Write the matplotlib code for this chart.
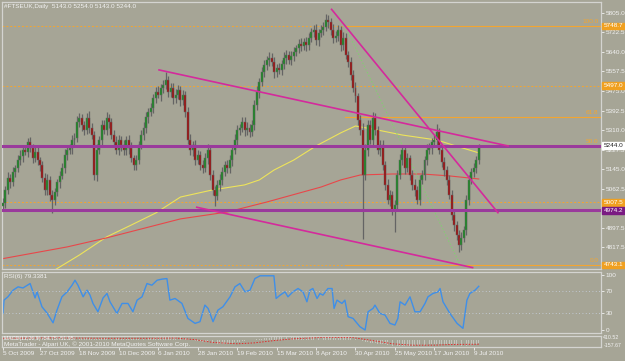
import numpy as np
import matplotlib.pyplot as plt

# FTSE daily candles, 5 Oct 2009 .. 12 Jul 2010, closes
first_open = 4990.0
closes = [
    5004, 5059, 5109, 5092, 5135, 5151, 5185, 5202, 5227, 5219,
    5261, 5236, 5193, 5219, 5185, 5164, 5109, 5059, 5101, 5038,
    5017, 5050, 5092, 5118, 5151, 5206, 5227, 5236, 5269, 5278,
    5345, 5362, 5332, 5311, 5362, 5320, 5290, 5122, 5227, 5269,
    5332, 5311, 5362, 5345, 5290, 5261, 5227, 5269, 5248, 5227,
    5269, 5236, 5193, 5164, 5185, 5248, 5290, 5320, 5366, 5387,
    5404, 5446, 5471, 5459, 5488, 5501, 5522, 5471, 5488, 5446,
    5459, 5480, 5438, 5459, 5387, 5269, 5227, 5248, 5185, 5206,
    5164, 5151, 5193, 5227, 5122, 5059, 5033, 5080, 5101, 5135,
    5164, 5151, 5185, 5227, 5269, 5311, 5320, 5345, 5311, 5320,
    5303, 5332, 5417, 5471, 5513, 5555, 5585, 5606, 5614, 5598,
    5555, 5572, 5564, 5589, 5614, 5627, 5606, 5623, 5640, 5656,
    5673, 5665, 5682, 5669, 5699, 5724, 5732, 5690, 5720, 5732,
    5745, 5774, 5766, 5732, 5699, 5707, 5732, 5669, 5699, 5627,
    5598, 5543, 5488, 5454, 5353, 5311, 5122, 5227, 5332, 5269,
    5362, 5311, 5227, 5248, 5164, 5080, 5017, 5038, 4975, 4996,
    5122, 5185, 5227, 5151, 5193, 5122, 5080, 5059, 5017, 5101,
    5122, 5185, 5227, 5236, 5261, 5269, 5303, 5227, 5177, 5143,
    5101, 5038, 4954, 4912, 4870, 4828, 4857, 4891, 5017, 5101,
    5135, 5151, 5185, 5244,
]
up_wick = [
    20, 15, 25, 18, 22, 12, 20, 25, 15, 20,
    18, 22, 15, 20, 25, 12, 18, 20, 25, 15,
    20, 18, 15, 22, 20, 25, 15, 18, 20, 22,
    25, 20, 18, 15, 22, 30, 20, 15, 25, 18,
    20, 22, 25, 15, 18, 20, 25, 22, 15, 20,
    18, 20, 25, 15, 20, 18, 22, 25, 20, 15,
    20, 18, 22, 25, 15, 20, 33, 18, 20, 22,
    25, 20, 18, 22, 15, 20, 25, 18, 20, 22,
    18, 22, 20, 25, 15, 20, 18, 22, 25, 20,
    15, 20, 22, 18, 25, 20, 15, 22, 20, 25,
    18, 20, 22, 25, 15, 20, 22, 18, 25, 20,
    22, 18, 20, 15, 25, 20, 18, 22, 20, 15,
    20, 25, 18, 22, 20, 15, 22, 25, 18, 20,
    22, 26, 20, 18, 25, 20, 22, 18, 25, 20,
    18, 22, 20, 25, 15, 20, 30, 25, 20, 22,
    25, 20, 18, 22, 20, 15, 25, 20, 18, 22,
    20, 25, 18, 22, 20, 15, 22, 25, 18, 20,
    22, 18, 25, 20, 15, 22, 35, 18, 20, 22,
    18, 20, 22, 25, 15, 20, 25, 18, 22, 20,
    15, 22, 18, 10,
]
down_wick = [
    15, 20, 18, 25, 15, 22, 18, 20, 25, 15,
    20, 18, 22, 15, 20, 25, 18, 22, 20, 25,
    55, 20, 18, 25, 15, 20, 22, 18, 25, 20,
    18, 22, 25, 20, 15, 22, 18, 20, 25, 18,
    22, 18, 20, 25, 15, 20, 18, 22, 25, 20,
    20, 25, 18, 22, 20, 15, 18, 22, 20, 25,
    18, 20, 22, 15, 25, 20, 18, 22, 20, 25,
    20, 18, 25, 22, 20, 18, 22, 25, 20, 18,
    22, 20, 18, 25, 20, 22, 40, 18, 25, 20,
    18, 22, 20, 25, 18, 20, 22, 18, 25, 20,
    20, 18, 22, 20, 25, 18, 20, 22, 25, 18,
    25, 20, 18, 22, 20, 25, 18, 20, 22, 18,
    20, 22, 18, 25, 20, 18, 22, 20, 25, 18,
    20, 18, 25, 22, 20, 18, 22, 25, 20, 18,
    22, 20, 18, 25, 20, 22, 270, 20, 25, 18,
    20, 22, 18, 25, 20, 22, 18, 25, 20, 95,
    22, 18, 20, 25, 18, 20, 22, 25, 18, 20,
    18, 22, 20, 18, 25, 20, 22, 18, 20, 25,
    20, 18, 22, 25, 20, 30, 20, 18, 22, 20,
    18, 22, 20, 15,
]

# moving averages (bar index, price)
yellow_pos = [21, 31, 42, 52, 62, 72, 85, 98, 104, 110, 118, 127, 137, 143, 152, 162, 176, 185, 193]
yellow_val = [4722, 4785, 4861, 4911, 4962, 5029, 5059, 5080, 5101, 5143, 5185, 5244, 5299, 5328,
              5311, 5290, 5269, 5240, 5215]
red_pos = [-1, 26, 42, 72, 91, 107, 129, 137, 145, 158, 170, 181, 193]
red_val = [4768, 4819, 4857, 4937, 4966, 5008, 5071, 5101, 5122, 5126, 5126, 5118, 5105]

# hand drawn objects
upper_line = ([63.3, 204.9], [5564, 5244])
steep_line = ([133.3, 200.8], [5819, 4963])
lower_line = ([78.6, 190.5], [4986, 4732])
fib_diag = ([138.7, 185.5], [5749, 4743])
fib_names = ['100.0', '61.8', '50.0', '0.0']
fib_levels = [5749, 5365, 5246, 4743]
orange_hlines = [5749, 5497, 5007, 4743]
orange_tags = ['5748.7', '5497.0', '5007.5', '4743.1']
purple_hlines = [5244.0, 4974.2]

# RSI(6)
rsi_pos = [0, 0.4, 2, 4.1, 6.1, 8.1, 11, 13, 13.8, 15.8, 17.8, 20.3, 21.9, 23.9, 26, 28, 29.2,
           30.4, 32.5, 34.1, 35.3, 36.5, 38.5, 40.6, 42.2, 43.4, 46.2, 48.3, 50.7, 52.7, 54.4,
           56.4, 58.4, 60.4, 62.5, 64.5, 66.5, 67.7, 69.8, 72.6, 75, 77.9, 79.9, 81.9, 83.2,
           85.2, 87.2, 89.2, 92.1, 94.1, 96.1, 98.2, 100.2, 102.2, 104.3, 107.1, 109.9, 110.8,
           112.4, 114.4, 115.6, 117.6, 119.7, 121.7, 123.3, 124.5, 125.7, 127.4, 128.6, 129.8,
           131.8, 133.5, 134.3, 135.5, 137.5, 138.7, 140, 142, 144.8, 146.9, 148.1, 150.1,
           150.9, 152.9, 155, 157, 159, 160.2, 161.1, 163.1, 165.1, 167.1, 169.2, 171.2,
           172.4, 174.4, 176.5, 177.3, 178.5, 181.3, 184.2, 186.6, 188.2, 189.4, 191.5, 193]
rsi_val = [30, 54, 60, 72, 78, 76, 84, 58, 69, 42, 31, 13, 36, 60, 69, 81, 90,
           81, 60, 72, 63, 48, 33, 58, 66, 51, 30, 48, 48, 33, 54,
           60, 84, 81, 90, 92, 93, 54, 57, 48, 21, 12, 15, 45, 39,
           15, 36, 42, 60, 78, 84, 69, 72, 93, 98, 98, 98, 57,
           63, 69, 60, 69, 75, 69, 51, 72, 75, 57, 66, 63,
           75, 75, 39, 54, 48, 54, 24, 21, 6, 0, 33, 39,
           45, 30, 27, 12, 9, 21, 51, 45, 60, 33, 33, 48,
           60, 66, 69, 75, 51, 30, 12, 3, 54, 66, 72, 79]

# MACD(12,26,9) main (grey bars) and signal (red dots)
macd_main = [
    40, 42, 45, 48, 50, 52, 55, 56, 58, 60,
    62, 62, 60, 58, 55, 50, 45, 38, 30, 22,
    15, 10, 8, 8, 10, 14, 18, 22, 28, 34,
    40, 44, 46, 46, 45, 44, 40, 36, 34, 32,
    32, 33, 34, 33, 32, 30, 28, 26, 24, 22,
    20, 18, 15, 12, 12, 14, 18, 22, 28, 34,
    40, 46, 50, 54, 58, 60, 62, 62, 60, 58,
    55, 52, 48, 42, 30, 15, 2, -10, -20, -30,
    -40, -48, -55, -62, -70, -78, -85, -90, -92, -92,
    -90, -86, -80, -72, -62, -52, -42, -34, -26, -20,
    -15, -10, -4, 4, 12, 20, 28, 35, 42, 48,
    54, 58, 60, 62, 64, 66, 68, 70, 72, 74,
    75, 76, 77, 78, 80, 82, 84, 85, 86, 88,
    90, 92, 92, 90, 88, 86, 84, 80, 74, 66,
    56, 44, 30, 15, 0, -15, -35, -50, -60, -68,
    -72, -78, -84, -90, -96, -104, -112, -120, -128, -134,
    -136, -136, -134, -132, -130, -128, -128, -126, -124, -120,
    -116, -112, -108, -104, -100, -96, -92, -90, -90, -92,
    -96, -102, -110, -118, -126, -132, -136, -134, -128, -118,
    -108, -98, -88, -76,
]
signal_pos = [0, 20, 40, 60, 70, 78, 85, 95, 102, 110, 118, 130, 142, 150, 158, 166, 175, 182, 193]
signal_val = [30, 40, 30, 30, 35, 0, -60, -90, -70, -20, 20, 50, 45, -20, -90, -120, -120, -105, -100]

# 4980.0 sits under the purple tag in the original, so it is left out
price_ticks = [5805.0, 5722.5, 5640.0, 5557.5, 5475.0, 5392.5, 5310.0, 5227.5, 5145.0,
               5062.5, 4897.5, 4817.5, 4735.0]
date_pos = [0, 15, 31, 47, 63, 79, 95, 111, 127, 143, 159, 175, 191]
date_labels = ['5 Oct 2009', '27 Oct 2009', '18 Nov 2009', '10 Dec 2009', '6 Jan 2010',
               '28 Jan 2010', '19 Feb 2010', '15 Mar 2010', '8 Apr 2010', '30 Apr 2010',
               '25 May 2010', '17 Jun 2010', '9 Jul 2010']

plt.rcParams['font.family'] = ['Liberation Sans', 'DejaVu Sans']
BG = '#a6a596'
TXT = '#f2f2f2'
FS = 4.6

fig = plt.figure(figsize=(6.25, 3.61), dpi=100, facecolor=BG)
ax = fig.add_axes([0.0032, 0.2548, 0.9584, 0.7397])
ax_rsi = fig.add_axes([0.0032, 0.0776, 0.9584, 0.1690], sharex=ax)
ax_macd = fig.add_axes([0.0032, 0.0388, 0.9584, 0.0305], sharex=ax)

for a in (ax, ax_rsi, ax_macd):
    a.set_facecolor(BG)
    for s in a.spines.values():
        s.set_color('#d4d4d0')
        s.set_linewidth(0.9)
    a.yaxis.tick_right()
    a.tick_params(axis='y', labelsize=FS, colors=TXT, length=2, pad=1.5, width=0.6)
    a.tick_params(axis='x', bottom=False, labelbottom=False)

ax.set_xlim(-0.41, 242.6)
ax.set_ylim(4726, 5850)

# candles
n = len(closes)
idx = np.arange(n)
c = np.array(closes, dtype=float)
o = np.concatenate([[first_open], c[:-1]])
hi = np.maximum(o, c) + np.array(up_wick)
lo = np.minimum(o, c) - np.array(down_wick)
ax.vlines(idx, lo, hi, color='#646464', lw=0.9, zorder=3)
body_col = np.where(c >= o, '#1b8a22', '#a00c0c')
ax.bar(idx, np.maximum(np.abs(c - o), 3), bottom=np.minimum(o, c), width=0.8,
       color=body_col, edgecolor='#646464', linewidth=0.35, zorder=4)

# moving averages
ax.plot(yellow_pos, yellow_val, color='#eee45a', lw=0.8, zorder=2)
ax.plot(red_pos, red_val, color='#e8474a', lw=0.8, zorder=2)

# horizontal levels
for lvl in orange_hlines:
    ax.axhline(lvl, color='#f3a530', lw=0.7, ls=(0, (2, 2)), zorder=1)
for name, lvl in zip(fib_names, fib_levels):
    ax.plot([fib_diag[0][0], 242.6], [lvl, lvl], color='#f3a530', lw=0.8, zorder=1)
    ax.text(241.5, lvl + 8, name, color='#f3a530', fontsize=FS, ha='right', va='bottom')
ax.plot(fib_diag[0], fib_diag[1], color='#7fd36f', lw=0.7, ls=(0, (1.5, 2)), zorder=2)
for lvl in purple_hlines:
    ax.axhline(lvl, color='#9a3a9c', lw=2.2, zorder=5)

# trend lines
for xs, ys in (upper_line, steep_line, lower_line):
    ax.plot(xs, ys, color='#d42a9c', lw=1.2, zorder=6)

ax.set_yticks(price_ticks)
ax.set_yticklabels([f'{v:.1f}' for v in price_ticks])

yt = ax.get_yaxis_transform()
for lvl, tag in zip(orange_hlines, orange_tags):
    ax.text(1.004, lvl, tag, transform=yt, fontsize=FS, color='white', ha='left', va='center',
            bbox=dict(boxstyle='square,pad=0.15', fc='#f0a020', ec='#f0a020'), clip_on=False)
ax.text(1.004, 4974.2, '4974.2', transform=yt, fontsize=FS, color='white', ha='left', va='center',
        bbox=dict(boxstyle='square,pad=0.15', fc='#7a1a82', ec='#7a1a82'), clip_on=False)
ax.text(1.004, 5244.0, '5244.0', transform=yt, fontsize=FS, color='#202020', ha='left',
        va='center', bbox=dict(boxstyle='square,pad=0.15', fc='white', ec='white'), clip_on=False)

ax.text(0.004, 0.992, '#FTSEUK,Daily  5143.0 5254.0 5143.0 5244.0', transform=ax.transAxes,
        color=TXT, fontsize=FS, ha='left', va='top')

# RSI panel
ax_rsi.set_ylim(-5.4, 104.9)
ax_rsi.plot(rsi_pos, rsi_val, color='#3f8fe8', lw=1.0)
for lvl in (70, 30):
    ax_rsi.axhline(lvl, color='#c9d3e4', lw=0.6, ls=(0, (1, 3)))
ax_rsi.set_yticks([100, 70, 30, 0])
ax_rsi.set_yticklabels(['100', '70', '30', '0'])
ax_rsi.text(0.004, 0.96, 'RSI(6) 79.3381', transform=ax_rsi.transAxes, color=TXT,
            fontsize=FS, ha='left', va='top')

# MACD panel
ax_macd.set_ylim(-160, 80)
ax_macd.bar(idx, macd_main, width=0.35, color='#c4c4bc', zorder=1)
ax_macd.plot(signal_pos, signal_val, color='#e02a2a', lw=0.7, ls=(0, (1.5, 1.5)), zorder=2)
ax_macd.set_yticks([])
mt = ax_macd.get_yaxis_transform()
ax_macd.text(1.004, 45, '410.52', transform=mt, fontsize=3.8, color=TXT, ha='left', va='center',
             clip_on=False)
ax_macd.text(1.004, -135, '-157.67', transform=mt, fontsize=3.8, color=TXT, ha='left',
             va='center', clip_on=False)
ax_macd.text(0.004, 1.0, 'MACD(12,26,9) -54.75 -51.95', transform=ax_macd.transAxes,
             color=TXT, fontsize=3.8, ha='left', va='top')
ax_macd.text(0.004, 0.0, 'MetaTrader - Alpari UK, \u00a9 2001-2010 MetaQuotes Software Corp.',
             transform=ax_macd.transAxes, color=TXT, fontsize=FS, ha='left', va='bottom')

ax_macd.tick_params(axis='x', bottom=True, labelbottom=True, labelsize=FS, colors=TXT,
                    length=2, pad=1, width=0.6)
ax_macd.set_xticks(date_pos)
ax_macd.set_xticklabels(date_labels, ha='left')

fig.savefig('out.png', dpi=100, facecolor=BG)
